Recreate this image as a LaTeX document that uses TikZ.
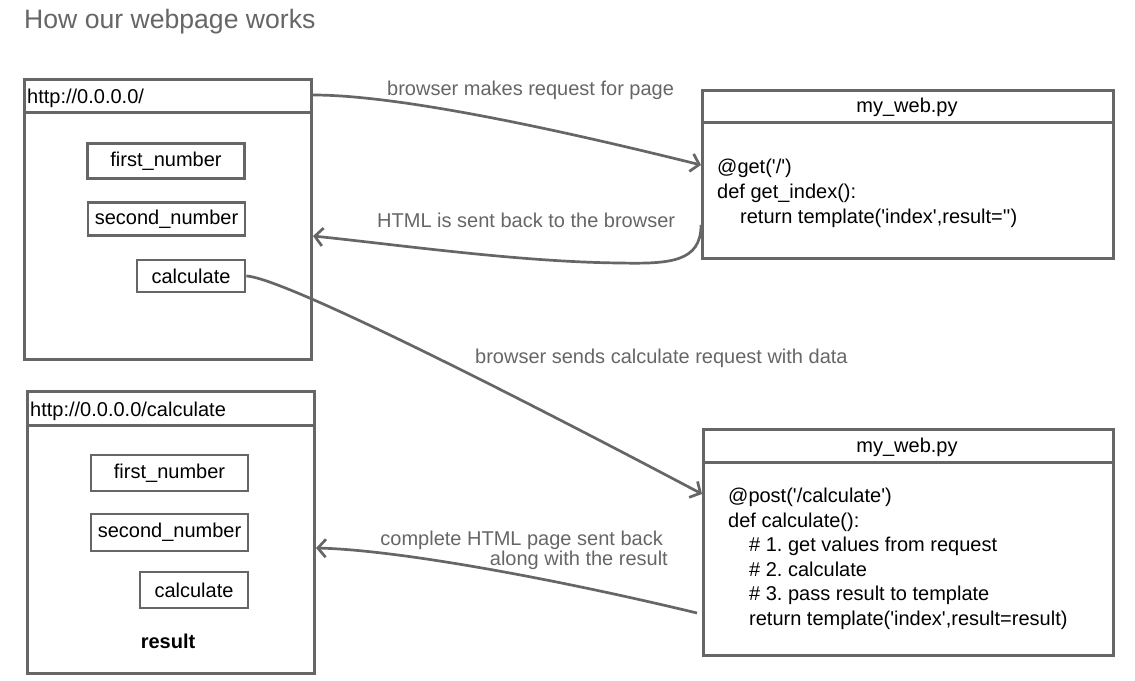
\documentclass[tikz,border=0pt]{standalone}
\usepackage{fontspec}
\usepackage{xcolor}
\newfontfamily\uifont{Liberation Sans}
\usetikzlibrary{arrows.meta}
\frenchspacing

\definecolor{linegray}{HTML}{666666}
\definecolor{notegray}{HTML}{666666}

\tikzset{
  win/.style={draw=linegray, line width=3pt, anchor=north west, inner sep=0pt},
  bar/.style={draw=linegray, line width=3pt},
  btn/.style={draw=linegray, line width=2.7pt, inner sep=0pt, font=\uifont\fontsize{20}{24}\selectfont},
  link/.style={draw=linegray, line width=2.7pt, -{Straight Barb[length=8pt,width=18pt]}},
  note/.style={text=notegray, font=\uifont\fontsize{20}{18}\selectfont, inner sep=0pt},
  code/.style={font=\uifont\fontsize{20}{25}\selectfont, align=left, inner sep=0pt}
}

\begin{document}
\begin{tikzpicture}[x=1pt,y=-1pt]
    \useasboundingbox (0,0) rectangle (1135,680);
    \node[anchor=base west, inner sep=0pt, text=notegray, font=\uifont\fontsize{26.6}{30}\selectfont] (title) at (24,28) {How our webpage works};

    % browser, first page
    \node[win, minimum width=287pt, minimum height=280pt] (page1) at (23,78) {};
    \draw[bar] ([yshift=-34pt]page1.north west) -- ([yshift=-34pt]page1.north east);
    \node[code, anchor=base west] (url1) at (27,103) {http://0.0.0.0/};
    \node[btn, minimum width=157pt, minimum height=35pt] (first1) at (166,161) {first\_number};
    \node[btn, minimum width=157pt, minimum height=33pt] (second1) at (166.5,219) {second\_number};
    \node[btn, minimum width=108pt, minimum height=32pt] (calc1) at (191,276) {calculate};

    % browser, result page
    \node[win, minimum width=287pt, minimum height=282pt] (page2) at (26,390) {};
    \draw[bar] ([yshift=-35pt]page2.north west) -- ([yshift=-35pt]page2.north east);
    \node[code, anchor=base west] (url2) at (30,416) {http://0.0.0.0/calculate};
    \node[btn, minimum width=157pt, minimum height=36pt] (first2) at (169.5,473) {first\_number};
    \node[btn, minimum width=157pt, minimum height=37pt] (second2) at (169.5,532.5) {second\_number};
    \node[btn, minimum width=108pt, minimum height=36pt] (calc2) at (194,590) {calculate};
    \node[code, font=\uifont\bfseries\fontsize{20}{25}\selectfont] (result) at (168,641) {result};

    % server, get
    \node[win, minimum width=411pt, minimum height=168pt] (web1) at (701,89) {};
    \draw[bar] ([yshift=-33pt]web1.north west) -- ([yshift=-33pt]web1.north east);
    \node[code, anchor=base] (file1) at (907,112) {my\_web.py};
    \node[code, anchor=base west] (src1) at (717,223) {@get('/')\\def get\_index():\\\hspace*{23pt}return template('index',result='')};

    % server, post
    \node[win, minimum width=410pt, minimum height=226pt] (web2) at (702,428) {};
    \draw[bar] ([yshift=-34pt]web2.north west) -- ([yshift=-34pt]web2.north east);
    \node[code, anchor=base] (file2) at (907,452) {my\_web.py};
    \node[code, anchor=base west, font=\uifont\fontsize{20}{24.5}\selectfont] (src2) at (728,625) {@post('/calculate')\\def calculate():\\\hspace*{21pt}\# 1. get values from request\\\hspace*{21pt}\# 2. calculate\\\hspace*{21pt}\# 3. pass result to template\\\hspace*{21pt}return template('index',result=result)};

    % requests and replies
    \draw[link] ([yshift=-17pt]page1.north east) .. controls (400,95) and (560,130) .. ([yshift=-76pt]web1.north west);
    \draw[link] ([yshift=35pt]web1.south west) .. controls (701,262) and (670,264) .. (620,263)
        .. controls (520,262) and (400,245) .. ([yshift=-158pt]page1.north east);
    \draw[link] (calc1.east) .. controls (290,278) and (600,440) .. ([yshift=-66pt]web2.north west);
    \draw[link] ([xshift=-5pt,yshift=44pt]web2.south west) .. controls (560,580) and (400,550) .. ([yshift=-158pt]page2.north east);

    \node[note, anchor=base west] (ask1) at (387,95) {browser makes request for page};
    \node[note, anchor=base west] (back1) at (377,227) {HTML is sent back to the browser};
    \node[note, anchor=base west] (ask2) at (475,363) {browser sends calculate request with data};
    \node[note, anchor=base east, align=right] (back2) at (668,565) {complete HTML page sent back\hspace*{5pt}\\along with the result};
\end{tikzpicture}
\end{document}
